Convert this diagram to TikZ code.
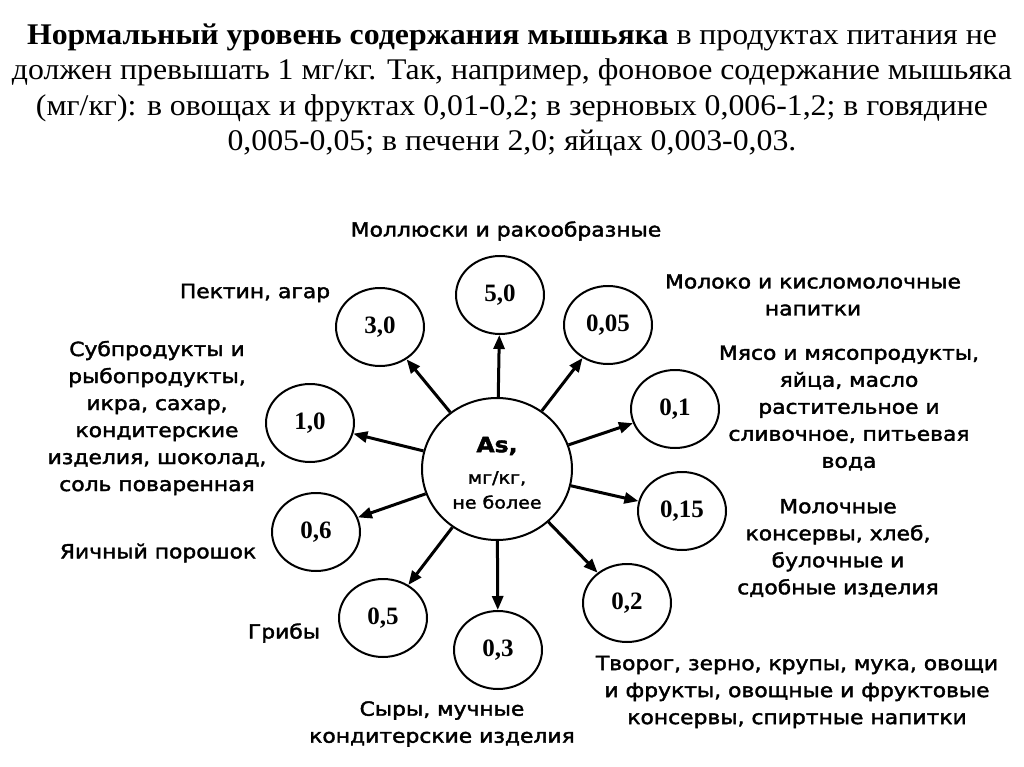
\documentclass[tikz,border=0pt]{standalone}
\usepackage{fontspec}
\setmainfont{Liberation Serif}
\newfontfamily\titlefont[FakeStretch=1.06]{Liberation Serif}
\newfontfamily\lblfont[FakeStretch=1.12, FakeBold=2]{DejaVu Sans}
\usepackage{tikz}
\usetikzlibrary{shapes.geometric, arrows.meta, positioning}

\begin{document}
\begin{tikzpicture}[
    x=1pt, y=-1pt,
    val/.style={ellipse, draw, line width=2pt, minimum width=88pt,
                minimum height=78pt, inner sep=0pt,
                font=\fontsize{25}{27}\selectfont\bfseries},
    lbl/.style={align=center, inner sep=0pt,
                font=\lblfont\fontsize{19.5}{27}\selectfont},
    arrow/.style={-{Triangle[length=14pt,width=11pt]}, line width=3pt},
]
    \useasboundingbox (0,0) rectangle (1024,767);

    % Title
    \node[align=center, font=\titlefont\fontsize{30}{35.5}\selectfont] (title) at (512,90)
        {\textbf{Нормальный уровень содержания мышьяка} в продуктах питания не\\
         должен превышать 1 мг/кг. Так, например, фоновое содержание мышьяка\\
         (мг/кг): в овощах и фруктах 0,01-0,2; в зерновых 0,006-1,2; в говядине\\
         0,005-0,05; в печени 2,0; яйцах 0,003-0,03.};

    % Center
    \node[ellipse, draw, line width=2pt, minimum width=150pt,
          minimum height=142pt, inner sep=0pt] (as) at (497,469) {};
    \node[font=\lblfont\fontsize{21}{24}\selectfont\bfseries] (asname) at (497,446) {As,};
    \node[lbl, font=\lblfont\fontsize{17}{25}\selectfont] (asunit) at (497,490)
        {мг/кг,\\не более};

    % Values
    \node[val] (n50)  at (500,295) {5,0};
    \node[val] (n30)  at (380,327) {3,0};
    \node[val] (n005) at (608,325) {0,05};
    \node[val] (n10)  at (310,423) {1,0};
    \node[val] (n01)  at (675,409) {0,1};
    \node[val] (n06)  at (316,532) {0,6};
    \node[val] (n015) at (682,511) {0,15};
    \node[val] (n05)  at (383,618) {0,5};
    \node[val] (n03)  at (498,650) {0,3};
    \node[val] (n02)  at (627,603) {0,2};

    \foreach \n in {n50, n30, n005, n10, n01, n06, n015, n05, n03, n02}
        \draw[arrow] (as) -- (\n);

    % Labels
    \node[lbl] (t50) at (506,231) {Моллюски и ракообразные};
    \node[lbl] (t30) at (255,293) {Пектин, агар};
    \node[lbl] (t005) at (813,295) {Молоко и кисломолочные\\напитки};
    \node[lbl] (t10) at (157,418) {Субпродукты и\\рыбопродукты,\\икра, сахар,\\
        кондитерские\\изделия, шоколад,\\соль поваренная};
    \node[lbl] (t01) at (849,408) {Мясо и мясопродукты,\\яйца, масло\\
        растительное и\\сливочное, питьевая\\вода};
    \node[lbl] (t015) at (838,548) {Молочные\\консервы, хлеб,\\булочные и\\
        сдобные изделия};
    \node[lbl] (t06) at (158,553) {Яичный порошок};
    \node[lbl] (t05) at (284,633) {Грибы};
    \node[lbl] (t02) at (797,692) {Творог, зерно, крупы, мука, овощи\\
        и фрукты, овощные и фруктовые\\консервы, спиртные напитки};
    \node[lbl] (t03) at (442,724) {Сыры, мучные\\кондитерские изделия};
\end{tikzpicture}
\end{document}
